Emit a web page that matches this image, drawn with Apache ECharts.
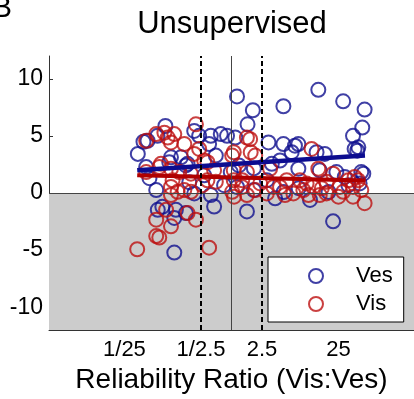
<!DOCTYPE html>
<html>
<head>
<meta charset="utf-8">
<script src="https://cdn.jsdelivr.net/npm/echarts@6/dist/echarts.min.js"></script>
<style>
html,body{margin:0;padding:0;background:#fff;}
#chart{width:414px;height:399px;}
</style>
</head>
<body>
<div id="chart"></div>
<script>
// Reliability ratio (Vis:Ves) and values for each cue
const vesRatio = [0.0598,0.0709,0.137,0.108,0.0769,0.104,0.109,0.125,0.179,0.326,0.537,0.724,0.510,0.593,0.537,0.326,0.162,0.219,0.267,0.188,0.254,0.179,0.440,0.977,0.080,0.378,0.154,0.254,0.624,1.18,1.90,4.76,13.6,28.7,54.7,51.0,38.6,40.5,43.9,1.62,1.12,3.04,4.76,6.74,7.46,6.11,16.5,12.9,4.30,3.36,7.46,14.2,23.4,49.5,30.1,47.1,10.6,3.71,1.59,21.2,0.874,1.18,2.89,1.96,7.53,18.5,33.6,4.81,52.6,45.3,0.0849,0.281,0.80,1.25,1.96];
const vesValue = [3.43,4.49,5.87,5.01,2.27,0.26,-1.47,-1.21,-5.21,5.44,5.01,5.16,4.29,-1.18,-0.17,-0.03,3.13,3.13,2.56,-1.47,-1.75,-2.18,1.55,1.84,4.58,5.01,2.70,2.42,3.28,8.46,7.25,7.60,9.04,8.03,7.31,5.73,5.01,3.86,3.71,6.02,4.86,4.43,4.29,4.15,4.29,3.57,3.43,3.57,2.85,2.56,2.13,1.99,1.84,1.84,1.41,0.84,-0.60,-0.46,-1.61,-2.48,5.01,0.54,1.12,0.26,0.43,0.09,0.69,0.09,1.70,4.0,1.30,0.95,0.69,2.42,2.16];
const visRatio = [0.0587,0.510,0.104,0.114,0.104,0.162,0.140,0.267,0.343,0.162,0.198,0.242,0.162,0.0769,0.104,0.133,0.179,0.162,0.343,0.242,0.326,0.440,0.593,0.624,0.120,0.162,0.208,0.295,0.418,0.485,1.02,1.08,0.147,0.0769,0.114,0.485,0.378,0.170,0.295,1.59,1.75,1.07,2.04,11.1,1.07,1.59,3.19,13.6,21.2,40.5,1.07,1.37,2.37,3.53,5.26,7.83,11.7,17.4,25.9,38.6,49.5,1.59,2.89,6.43,17.4,38.6,54.7,4.30,9.56,1.78,1.38,24.9,10.1,33.6,15.1,2.04,5.0,8.67,14.2,28.7,44.9,1.02];
const visValue = [-4.92,-4.78,-3.77,-3.89,-2.33,-2.91,-1.47,-1.75,-2.33,-0.17,0.11,0.26,0.54,4.58,5.16,5.29,5.16,4.43,6.02,4.29,3.43,2.85,1.99,0.98,2.56,2.13,1.84,1.70,0.69,1.12,3.28,-0.32,4.86,1.84,2.27,2.70,3.86,1.12,0.11,4.86,4.72,3.57,3.28,3.86,1.99,1.84,2.13,2.13,1.70,1.41,1.12,0.54,0.84,0.54,1.12,1.12,0.54,0.98,0.54,0.54,0.26,-0.17,-0.03,-0.03,-0.03,-0.32,-0.89,0.54,0.84,3.57,1.12,-0.32,-0.17,1.12,0.41,0.26,-0.17,0.26,-0.17,0.11,1.12,0.11];
// Regression fits (end points)
const vesFitRatio = [0.0587, 55.3];
const vesFitValue = [1.99, 3.28];
const visFitRatio = [0.0587, 55.3];
const visFitValue = [1.55, 1.10];
// Axes
const xTickValues = [0.04, 0.4, 2.5, 25];
const xTickLabels = ['1/25', '1/2.5', '2.5', '25'];
const yTickValues = [-10, -5, 0, 5, 10];
const boundaryRatios = [0.4, 2.5];
const equalRatio = 1;

const FONT = 'Liberation Sans, Arial, sans-serif';
const BLUE = '#10108f';
const RED = '#bd1010';

function zip(a, b) { return a.map((v, i) => [v, b[i]]); }

const chart = echarts.init(document.getElementById('chart'), null, {renderer: 'canvas'});
chart.setOption({
  animation: false,
  backgroundColor: '#fff',
  title: {
    text: 'Unsupervised',
    left: 232, top: 9, padding: 0,
    textAlign: 'center',
    textStyle: {fontFamily: FONT, fontSize: 31, fontWeight: 'normal', color: '#000'}
  },
  graphic: [{
    type: 'text', left: -8, top: -6,
    style: {text: 'B', fontFamily: FONT, fontSize: 30, fill: '#000'}
  }],
  legend: {
    orient: 'vertical',
    left: 268, top: 257,
    backgroundColor: '#fff',
    borderColor: '#000', borderWidth: 1,
    padding: [8, 11, 7, 40],
    itemWidth: 14, itemHeight: 14, itemGap: 6,
    textStyle: {fontFamily: FONT, fontSize: 22, color: '#000', padding: [0, 0, 0, 28]},
    data: [{name: 'Ves', icon: 'circle'}, {name: 'Vis', icon: 'circle'}]
  },
  grid: {left: 49, top: 56, width: 367, height: 277},
  xAxis: {
    type: 'log',
    min: 0.00414, max: 241.5,
    name: 'Reliability Ratio (Vis:Ves)',
    nameLocation: 'middle', nameGap: 35,
    nameTextStyle: {fontFamily: FONT, fontSize: 28, color: '#000'},
    axisLine: {show: true, onZero: false, lineStyle: {color: '#333', width: 1}},
    axisTick: {show: true, inside: true, length: 4, customValues: xTickValues, lineStyle: {color: '#333'}},
    axisLabel: {
      customValues: xTickValues, margin: 9,
      fontFamily: FONT, fontSize: 22, color: '#000',
      formatter: function (v) {
        let best = 0, bd = Infinity;
        xTickValues.forEach((t, i) => { const d = Math.abs(Math.log(v / t)); if (d < bd) { bd = d; best = i; } });
        return xTickLabels[best];
      }
    },
    splitLine: {show: false}, minorTick: {show: false}
  },
  yAxis: {
    type: 'value', min: -12, max: 12,
    axisLine: {show: true, onZero: false, lineStyle: {color: '#333', width: 1}},
    axisTick: {show: true, inside: true, length: 4, customValues: yTickValues, lineStyle: {color: '#333'}},
    axisLabel: {customValues: yTickValues, margin: 6, fontFamily: FONT, fontSize: 23, color: '#000'},
    splitLine: {show: false}
  },
  series: [
    {
      name: 'Ves', type: 'scatter', symbol: 'circle', symbolSize: 14,
      itemStyle: {color: 'rgba(0,0,0,0)', borderColor: BLUE, borderWidth: 2},
      data: zip(vesRatio, vesValue),
      markArea: {
        silent: true,
        itemStyle: {color: '#cccccc'},
        data: [[{yAxis: -12}, {yAxis: 0}]]
      },
      markLine: {
        silent: true, symbol: 'none', label: {show: false},
        lineStyle: {color: '#444', width: 1, type: 'solid'},
        data: [{yAxis: 0}, {xAxis: equalRatio}]
      }
    },
    {
      name: 'Vis', type: 'scatter', symbol: 'circle', symbolSize: 14,
      itemStyle: {color: 'rgba(0,0,0,0)', borderColor: RED, borderWidth: 2},
      data: zip(visRatio, visValue)
    },
    {
      name: 'Vis fit', type: 'line', symbol: 'none',
      lineStyle: {color: '#b00000', width: 4},
      data: zip(visFitRatio, visFitValue)
    },
    {
      name: 'Ves fit', type: 'line', symbol: 'none', z: 3,
      lineStyle: {color: '#0c0c90', width: 4.5},
      data: zip(vesFitRatio, vesFitValue),
      markLine: {
        silent: true, symbol: 'none', label: {show: false},
        lineStyle: {color: '#000', width: 2, type: [5, 3]},
        data: boundaryRatios.map(r => ({xAxis: r}))
      }
    }
  ]
});
</script>
</body>
</html>
